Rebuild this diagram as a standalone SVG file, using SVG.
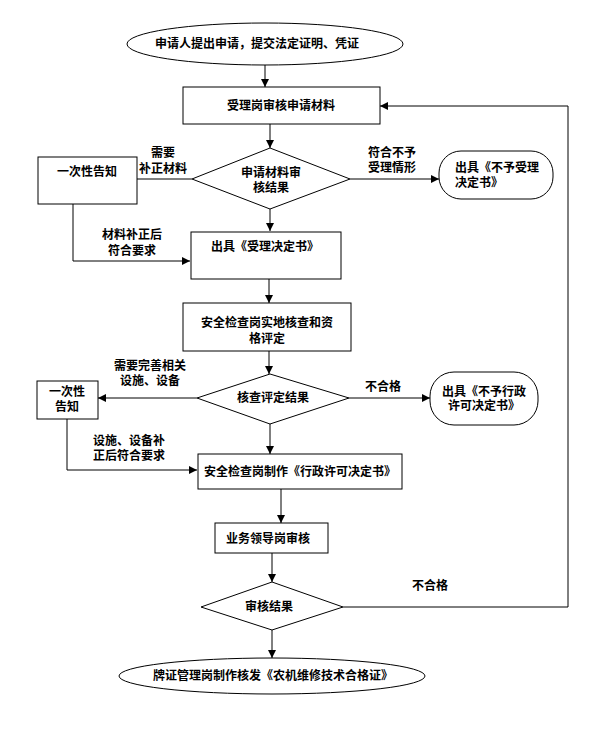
<svg xmlns="http://www.w3.org/2000/svg" width="591" height="746" viewBox="0 0 591 746">
<style>
.s{fill:#fff;stroke:#000;stroke-width:1}
.c{fill:none;stroke:#000;stroke-width:1}
text{font-family:"Noto Sans CJK SC","Noto Sans CJK JP",sans-serif;font-size:12px;font-weight:bold;fill:#000}
.m{text-anchor:middle}
</style>
<defs>
<marker id="ah" viewBox="0 0 10 10" refX="10" refY="5" markerWidth="8" markerHeight="8" markerUnits="userSpaceOnUse" orient="auto">
<path d="M0,0 L10,5 L0,10 z" fill="#000"/>
</marker>
</defs>
<rect width="591" height="746" fill="#fff"/>
<g id="connectors">
<line class="c" x1="265" y1="65" x2="265" y2="87" marker-end="url(#ah)"/>
<line class="c" x1="270" y1="124" x2="270" y2="148" marker-end="url(#ah)"/>
<line class="c" x1="192" y1="179" x2="137" y2="179"/>
<polyline class="c" points="73,204 73,261 190,261" marker-end="url(#ah)"/>
<line class="c" x1="350" y1="179" x2="439" y2="179" marker-end="url(#ah)"/>
<line class="c" x1="270" y1="209" x2="270" y2="231" marker-end="url(#ah)"/>
<line class="c" x1="269" y1="279" x2="269" y2="303" marker-end="url(#ah)"/>
<line class="c" x1="269" y1="351" x2="269" y2="374" marker-end="url(#ah)"/>
<line class="c" x1="197" y1="398" x2="98" y2="398" marker-end="url(#ah)"/>
<line class="c" x1="349" y1="398" x2="430" y2="398" marker-end="url(#ah)"/>
<polyline class="c" points="67,419 67,470 197,470" marker-end="url(#ah)"/>
<line class="c" x1="270" y1="424" x2="270" y2="454" marker-end="url(#ah)"/>
<line class="c" x1="281" y1="489" x2="281" y2="523" marker-end="url(#ah)"/>
<line class="c" x1="272" y1="553" x2="272" y2="582" marker-end="url(#ah)"/>
<polyline class="c" points="343,607 568,607 568,106 380,106" marker-end="url(#ah)"/>
<line class="c" x1="272" y1="630" x2="272" y2="658" marker-end="url(#ah)"/>
</g>
<g id="labels">
<text class="m" x="163" y="157">需要</text>
<text class="m" x="163" y="173">补正材料</text>
<text class="m" x="132" y="239">材料补正后</text>
<text class="m" x="132" y="255">符合要求</text>
<text class="m" x="392" y="157">符合不予</text>
<text class="m" x="392" y="172">受理情形</text>
<text class="m" x="150" y="370">需要完善相关</text>
<text class="m" x="150" y="385">设施、设备</text>
<text class="m" x="383" y="391">不合格</text>
<text x="93" y="445">设施、设备补</text>
<text x="93" y="460">正后符合要求</text>
<text class="m" x="430" y="590">不合格</text>
</g>
<g id="start">
<ellipse class="s" cx="265" cy="44" rx="138" ry="21"/>
<text class="m" x="257" y="48">申请人提出申请，提交法定证明、凭证</text>
</g>
<g id="review">
<rect class="s" x="183" y="87" width="197" height="37"/>
<text class="m" x="281" y="110">受理岗审核申请材料</text>
</g>
<g id="decision1">
<polygon class="s" points="270,148 350,179 270,209 192,179"/>
<text class="m" x="271" y="177">申请材料审</text>
<text class="m" x="271" y="192">核结果</text>
</g>
<g id="notify1">
<rect class="s" x="38" y="157" width="99" height="47"/>
<text class="m" x="87" y="176">一次性告知</text>
</g>
<g id="reject1">
<rect class="s" x="439" y="151" width="114" height="48" rx="22" ry="22"/>
<text x="455" y="172">出具《不予受理</text>
<text x="455" y="187">决定书》</text>
</g>
<g id="accept">
<rect class="s" x="191" y="232" width="150" height="47"/>
<text x="211" y="251">出具《受理决定书》</text>
</g>
<g id="inspect">
<rect class="s" x="183" y="303" width="168" height="48"/>
<text class="m" x="267" y="327">安全检查岗实地核查和资</text>
<text class="m" x="267" y="343">格评定</text>
</g>
<g id="decision2">
<polygon class="s" points="270,374 349,398 270,424 197,398"/>
<text class="m" x="273" y="402">核查评定结果</text>
</g>
<g id="notify2">
<rect class="s" x="37" y="381" width="61" height="38"/>
<text class="m" x="67" y="396">一次性</text>
<text class="m" x="67" y="411">告知</text>
</g>
<g id="reject2">
<rect class="s" x="430" y="372" width="108" height="53" rx="24" ry="24"/>
<text class="m" x="484" y="396">出具《不予行政</text>
<text class="m" x="484" y="410">许可决定书》</text>
</g>
<g id="make">
<rect class="s" x="198" y="454" width="204" height="35"/>
<text class="m" x="300" y="476">安全检查岗制作《行政许可决定书》</text>
</g>
<g id="leader">
<rect class="s" x="215" y="523" width="113" height="30"/>
<text class="m" x="268" y="543">业务领导岗审核</text>
</g>
<g id="decision3">
<polygon class="s" points="272,582 343,607 272,630 201,607"/>
<text class="m" x="269" y="611">审核结果</text>
</g>
<g id="end">
<ellipse class="s" cx="272" cy="676" rx="153" ry="18"/>
<text class="m" x="273" y="680">牌证管理岗制作核发《农机维修技术合格证》</text>
</g>
</svg>
